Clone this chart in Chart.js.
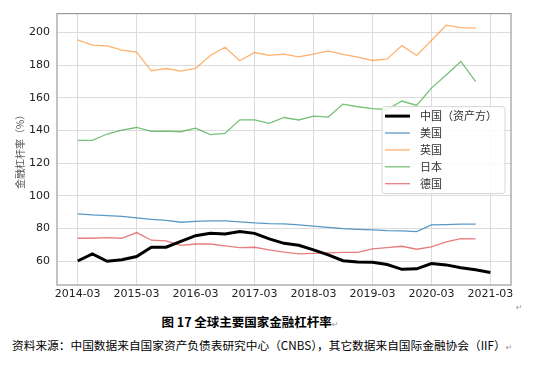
<!DOCTYPE html>
<html>
<head>
<meta charset="utf-8">
<script src="https://cdn.jsdelivr.net/npm/chart.js@4.4.1/dist/chart.umd.min.js"></script>
<style>
  html, body { margin: 0; padding: 0; background: #fff; }
  #wrap { position: relative; width: 540px; height: 373px; overflow: hidden; }
  #box { position: absolute; left: 0; top: 0; width: 540px; height: 310px; }
  .cap { position: absolute; white-space: nowrap; color: #000; font-family: "Noto Sans CJK SC", sans-serif; }
  .mark { color: #999; font-family: "DejaVu Sans", sans-serif; font-size: 8px; font-weight: normal; }
</style>
</head>
<body>
<div id="wrap">
  <div id="box"><canvas id="chart"></canvas></div>
  <div class="cap" style="left:516px; top:291px;"><span class="mark">↵</span></div>
  <div class="cap" id="title" style="left:0; width:500px; top:312px; text-align:center; font-size:12.5px; font-weight:bold;">图 17 全球主要国家金融杠杆率<span class="mark">↵</span></div>
  <div class="cap" id="source" style="left:12px; top:336px; font-size:11.7px;">资料来源：中国数据来自国家资产负债表研究中心（CNBS），其它数据来自国际金融协会（IIF）<span class="mark">↵</span></div>
</div>
<script>
// 季度标签，2014-03 到 2021-03
const quarters = [];
for (let y = 2014; y <= 2021; y++) {
    for (const m of ['03', '06', '09', '12']) quarters.push(y + '-' + m);
}
const yearTicks = ['2014-03', '2015-03', '2016-03', '2017-03', '2018-03', '2019-03', '2020-03', '2021-03'];
const yTicks = [60, 80, 100, 120, 140, 160, 180, 200];

const seriesNames = ['中国（资产方）', '美国', '英国', '日本', '德国'];

// 数值读自原图（%）
const china = [60.2, 64.5, 60.0, 61.0, 62.9, 68.6, 68.6, 72.2, 75.7, 77.1, 76.7, 78.2, 77.1, 73.7, 71.0,
    69.8, 67.0, 63.9, 60.4, 59.6, 59.4, 58.0, 55.1, 55.4, 58.6, 57.8, 56.0, 54.8, 53.1];
const usa = [89.0, 88.4, 88.0, 87.5, 86.6, 85.7, 85.1, 83.9, 84.5, 84.7, 84.7, 84.1, 83.5, 83.1, 82.9,
    82.3, 81.5, 80.8, 80.0, 79.6, 79.2, 78.8, 78.6, 78.2, 82.3, 82.5, 82.7, 82.7];
const uk = [195.5, 192.3, 191.9, 189.2, 188.0, 176.6, 178.0, 176.4, 178.0, 186.0, 191.0, 182.7, 187.8, 186.0, 186.8,
    185.1, 186.8, 188.8, 186.6, 185.0, 182.9, 183.9, 192.0, 186.0, 195.1, 204.5, 203.0, 202.7];
const japan = [134.0, 134.0, 137.9, 140.3, 141.9, 139.5, 139.7, 139.3, 141.5, 137.5, 138.3, 146.6, 146.6, 144.4, 148.0,
    146.5, 148.9, 148.3, 156.2, 154.6, 153.5, 152.9, 158.1, 155.4, 166.0, 174.0, 182.3, 169.9];
const germany = [74.1, 74.1, 74.5, 74.1, 77.6, 72.9, 72.5, 69.8, 70.6, 70.6, 69.4, 68.4, 68.6, 67.0, 65.6,
    64.6, 64.8, 65.1, 65.5, 65.5, 67.6, 68.4, 69.2, 67.4, 68.8, 71.9, 73.9, 73.7];

const colors = ['#000000', 'rgba(31,119,180,0.75)', 'rgba(255,127,14,0.6)', 'rgba(44,160,44,0.65)', 'rgba(214,39,40,0.6)'];
const widths = [3, 1.3, 1.3, 1.3, 1.3];

const toPoints = arr => arr.map((v, i) => ({ x: i, y: v }));

const datasets = [china, usa, uk, japan, germany].map((d, i) => ({
    label: seriesNames[i],
    data: toPoints(d),
    borderColor: colors[i],
    backgroundColor: colors[i],
    borderWidth: widths[i],
    pointRadius: 0,
    tension: 0,
    fill: false
}));

// 绘图区边框
const frame = {
    id: 'frame',
    afterDatasetsDraw(chart) {
        const { ctx, chartArea: a } = chart;
        ctx.save();
        ctx.strokeStyle = '#9a9a9a';
        ctx.lineWidth = 1.2;
        ctx.strokeRect(a.left, a.top, a.right - a.left, a.bottom - a.top);
        ctx.restore();
    }
};

// 图内图例（右侧中部）
const innerLegend = {
    id: 'innerLegend',
    afterDatasetsDraw(chart) {
        const { ctx, chartArea: a } = chart;
        const x0 = a.right - 129, y0 = a.top + 93, w = 123, h = 87;
        ctx.save();
        ctx.fillStyle = 'rgba(255,255,255,0.85)';
        ctx.strokeStyle = '#d6d6d6';
        ctx.lineWidth = 1;
        ctx.beginPath();
        ctx.roundRect(x0, y0, w, h, 3);
        ctx.fill();
        ctx.stroke();
        ctx.font = '11px "Noto Sans CJK SC"';
        ctx.textBaseline = 'middle';
        chart.data.datasets.forEach((ds, i) => {
            const yy = y0 + 9.5 + i * 16.9;
            ctx.strokeStyle = ds.borderColor;
            ctx.lineWidth = ds.borderWidth;
            ctx.beginPath();
            ctx.moveTo(x0 + 3, yy);
            ctx.lineTo(x0 + 28, yy);
            ctx.stroke();
            ctx.fillStyle = '#333';
            ctx.fillText(ds.label, x0 + 38, yy);
        });
        ctx.restore();
    }
};

new Chart(document.getElementById('chart'), {
    type: 'line',
    data: { datasets },
    options: {
        responsive: true,
        maintainAspectRatio: false,
        animation: false,
        layout: { padding: { left: 0, top: 12, right: 29, bottom: 0 } },
        plugins: { legend: { display: false }, tooltip: { enabled: false } },
        scales: {
            x: {
                type: 'linear',
                min: -1.4,
                max: 29.4,
                afterBuildTicks: s => { s.ticks = yearTicks.map(t => ({ value: quarters.indexOf(t) })); },
                afterFit: s => { s.height = 25; },
                ticks: {
                    callback: v => quarters[v],
                    color: '#222',
                    font: { family: 'DejaVu Sans', size: 11 },
                    padding: 3,
                    maxRotation: 0,
                    autoSkip: false
                },
                grid: { color: '#dcdcdc', lineWidth: 1, drawTicks: false },
                border: { display: false }
            },
            y: {
                min: 45.5,
                max: 211.6,
                afterBuildTicks: s => { s.ticks = yTicks.map(v => ({ value: v })); },
                afterFit: s => { s.width = 57; },
                ticks: {
                    color: '#222',
                    font: { family: 'DejaVu Sans', size: 11 },
                    padding: 7
                },
                grid: { color: '#dcdcdc', lineWidth: 1, drawTicks: false },
                border: { display: false },
                title: {
                    display: true,
                    text: '金融杠杆率（%）',
                    color: '#555',
                    font: { family: 'Noto Sans CJK SC', size: 10 },
                    padding: { top: 14, bottom: 0 }
                }
            }
        }
    },
    plugins: [frame, innerLegend]
});
</script>
</body>
</html>
